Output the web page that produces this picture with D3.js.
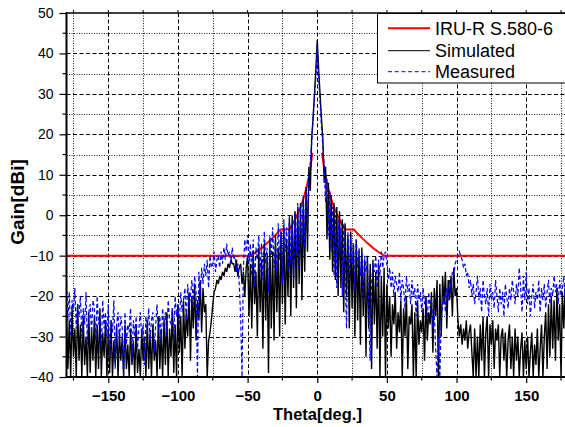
<!DOCTYPE html>
<html><head><meta charset="utf-8">
<script src="https://cdn.jsdelivr.net/npm/d3@7"></script>
<style>html,body{margin:0;padding:0;background:#fff;overflow:hidden}</style>
</head><body><svg id="chart" width="565" height="427"></svg>
<script>
// ---------- data ----------
const xTicks = [-150, -100, -50, 0, 50, 100, 150];
const xMinorTicks = [-175, -125, -75, -25, 25, 75, 125, 175];
const yTicks = [-40, -30, -20, -10, 0, 10, 20, 30, 40, 50];
const yMinorTicks = [-35, -25, -15, -5, 5, 15, 25, 35, 45];
const seriesNames = ["IRU-R S.580-6", "Simulated", "Measured"];
const xTitle = "Theta[deg.]";
const yTitle = "Gain[dBi]";

// sampling angles (deg) of the two measured/simulated patterns
const simTheta = d3.range(-180, 181, 1);
const simGain = [
  -24,-38,-26,-40,-23,-35,-28,-40,-22,-36,   // -180..-171
  -27,-40,-25,-37,-30,-40,-24,-39,-28,-36,   // -170..-161
  -25,-40,-27,-38,-23,-40,-29,-35,-26,-40,   // -160..-151
  -28,-39,-26,-40,-31,-37,-27,-40,-29,-36,   // -150..-141
  -30,-40,-27,-38,-32,-40,-28,-37,-31,-40,   // -140..-131
  -27,-39,-33,-40,-28,-36,-30,-40,-26,-38,   // -130..-121
  -29,-40,-27,-36,-31,-40,-25,-38,-28,-40,   // -120..-111
  -26,-37,-24,-40,-28,-35,-23,-39,-27,-40,   // -110..-101
  -22,-34,-25,-40,-21,-33,-24,-30,-19,-36,   // -100..-91
  -20,-28,-17,-31,-21,-26,-16,-29,-18,-24,   // -90..-81
  -22,-40,-31,-29,-26,-22,-19,-18,-16,-17,   // -80..-71
  -15,-16,-14,-15,-13,-14,-12,-13,-11,-12,   // -70..-61
  -12,-14,-11,-15,-13,-12,-17,-14,-20,-13,   // -60..-51
  -10,-25,-12,-28,-9,-22,-14,-30,-8,-24,     // -50..-41
  -11,-33,-7,-26,-10,-39,-6,-28,-9,-31,      // -40..-31
  -5,-24,-8,-30,-4,-22,-3,-27,-6,-20,        // -30..-21
  -1,-25,0,-18,1,-23,2,-17,3,-21,            // -20..-11
  4,-14,7,-9,12,6,19,24,30,36,               // -10..-1
  43.3,                                      // 0
  36,30,24,19,8,12,-6,8,-11,5,               // 1..10
  -14,3,-16,2,-20,1,-18,-1,-24,-2,           // 11..20
  -20,-5,-28,-4,-23,-7,-30,-6,-26,-9,        // 21..30
  -32,-8,-25,-11,-35,-10,-28,-12,-38,-11,    // 31..40
  -27,-14,-33,-12,-40,-15,-30,-13,-40,-17,   // 41..50
  -28,-20,-35,-22,-27,-19,-33,-24,-29,-21,   // 51..60
  -40,-23,-30,-20,-38,-25,-27,-22,-40,-24,   // 61..70
  -40,-21,-32,-26,-29,-23,-36,-20,-31,-24,   // 71..80
  -27,-19,-34,-18,-25,-16,-40,-17,-30,-15,   // 81..90
  -22,-14,-28,-16,-21,-15,-25,-13,-20,-18,   // 91..100
  -26,-30,-27,-32,-28,-31,-26,-33,-29,-27,   // 101..110
  -34,-40,-28,-40,-30,-40,-27,-36,-25,-40,   // 111..120
  -29,-25,-40,-27,-32,-26,-38,-28,-31,-27,   // 121..130
  -40,-30,-28,-36,-29,-40,-31,-27,-38,-30,   // 131..140
  -40,-28,-36,-30,-40,-33,-29,-40,-31,-38,   // 141..150
  -30,-40,-34,-29,-40,-32,-37,-28,-40,-33,   // 151..160
  -27,-40,-30,-24,-38,-22,-35,-20,-33,-21,   // 161..170
  -36,-18,-31,-22,-40,-19,-28,-17,-34,-21    // 171..180
];

const measTheta = d3.range(-180, 181, 1);
const measGain = [
  -17,-26,-19,-30,-21,-24,-18,-28,-22,-25,   // -180..-171
  -20,-30,-23,-27,-19,-32,-24,-22,-29,-21,   // -170..-161
  -23,-31,-20,-27,-25,-33,-21,-28,-24,-30,   // -160..-151
  -22,-35,-26,-29,-21,-38,-27,-24,-31,-25,   // -150..-141
  -28,-40,-24,-32,-27,-29,-23,-36,-26,-30,   // -140..-131
  -25,-33,-28,-24,-30,-27,-37,-25,-29,-23,   // -130..-121
  -31,-26,-24,-34,-27,-22,-29,-25,-32,-23,   // -120..-111
  -28,-24,-30,-21,-26,-27,-23,-31,-20,-25,   // -110..-101
  -22,-27,-19,-24,-21,-18,-26,-17,-23,-20,   // -100..-91
  -16,-22,-15,-19,-40,-14,-20,-13,-17,-12,   // -90..-81
  -15,-11,-18,-10,-13,-12,-9,-14,-11,-10,    // -80..-71
  -13,-9,-12,-8,-11,-7,-10,-9,-12,-8,        // -70..-61
  -11,-10,-14,-12,-17,-25,-40,-13,-6,-9,     // -60..-51
  -5,-12,-7,-15,-6,-18,-8,-11,-5,-14,        // -50..-41
  -7,-16,-4,-12,-8,-19,-5,-10,-3,-13,        // -40..-31
  -6,-15,-2,-11,-4,-17,-1,-9,-3,-14,         // -30..-21
  0,-12,-2,-16,1,-9,3,-13,2,-7,              // -20..-11
  5,-8,7,-3,10,13,18,24,29,34,               // -10..-1
  42,                                        // 0
  34,28,22,17,12,3,9,-5,6,-9,                // 1..10
  2,-15,0,-18,-1,-10,-3,-20,-2,-14,          // 11..20
  -28,-4,-16,-5,-12,-7,-19,-6,-13,-8,        // 21..30
  -15,-9,-21,-10,-14,-11,-25,-36,-17,-12,    // 31..40
  -14,-10,-18,-11,-15,-9,-13,-10,-9,-12,     // 41..50
  -16,-13,-18,-14,-20,-15,-17,-19,-14,-21,   // 51..60
  -16,-18,-23,-15,-19,-17,-22,-16,-20,-18,   // 61..70
  -25,-17,-21,-19,-24,-18,-22,-20,-26,-19,   // 71..80
  -23,-21,-28,-24,-33,-40,-30,-40,-26,-22,   // 81..90
  -20,-24,-18,-21,-16,-19,-14,-15,-12,-11,   // 91..100
  -10,-9,-10,-11,-13,-12,-15,-14,-18,-16,    // 101..110
  -20,-17,-22,-19,-15,-21,-18,-24,-16,-20,   // 111..120
  -22,-18,-25,-17,-21,-19,-23,-16,-20,-24,   // 121..130
  -18,-22,-19,-25,-17,-20,-23,-18,-21,-16,   // 131..140
  -19,-22,-17,-20,-13,-18,-24,-15,-21,-14,   // 141..150
  -22,-18,-25,-20,-17,-23,-19,-21,-16,-24,   // 151..160
  -18,-21,-17,-23,-19,-16,-22,-18,-20,-15,   // 161..170
  -19,-17,-22,-16,-20,-18,-15,-21,-17,-19    // 171..180
];

// ITU-R S.580-6 envelope (hidden inside the main lobe near 0)
const maskTheta = [-180,-48,-44,-40,-36,-32,-28,-26.3,-20,-18,-16,-14,-12,-10,-8,-6,-5,-4,-3.5,
                   0,
                   3.5,4,5,6,8,10,12,14,16,18,20,26.3,28,32,36,40,44,48,180];
const maskGain  = [-10,-10,-9.1,-8.1,-6.9,-5.6,-4.2,-3.5,-3.5,-2.4,-1.1,0.4,2.0,4.0,6.4,9.5,11.5,14.0,15.4,
                   NaN,
                   15.4,14.0,11.5,9.5,6.4,4.0,2.0,0.4,-1.1,-2.4,-3.5,-3.5,-4.2,-5.6,-6.9,-8.1,-9.1,-10,-10];

// ---------- chart ----------
const svg = d3.select("#chart");
const L = 66.5, R = 568, T = 13, B = 377;
const x = d3.scaleLinear().domain([-180, 180]).range([L, R]);
const y = d3.scaleLinear().domain([-40, 50]).range([B, T]);
const font = "'Liberation Sans', Arial, Helvetica, sans-serif";

svg.append("rect").attr("width", 565).attr("height", 427).attr("fill", "#fff");

svg.append("defs").append("clipPath").attr("id", "clip")
  .append("rect").attr("x", L).attr("y", T).attr("width", R - L).attr("height", B - T);

// grid
const grid = svg.append("g");
grid.selectAll(".hmin").data(yMinorTicks).join("line")
  .attr("x1", L).attr("x2", R).attr("y1", d => Math.round(y(d)) + 0.5).attr("y2", d => Math.round(y(d)) + 0.5)
  .attr("stroke", "#222").attr("stroke-width", 1).attr("stroke-dasharray", "1,1.5");
grid.selectAll(".hmaj").data(yTicks.filter(d => d > -40 && d < 50)).join("line")
  .attr("x1", L).attr("x2", R).attr("y1", d => Math.round(y(d)) + 0.5).attr("y2", d => Math.round(y(d)) + 0.5)
  .attr("stroke", "#000").attr("stroke-width", 1).attr("stroke-dasharray", "4,2.5");
grid.selectAll(".vmin").data(xMinorTicks).join("line")
  .attr("y1", T).attr("y2", B).attr("x1", d => Math.round(x(d)) + 0.5).attr("x2", d => Math.round(x(d)) + 0.5)
  .attr("stroke", "#222").attr("stroke-width", 1).attr("stroke-dasharray", "1,1.5");
grid.selectAll(".vmaj").data(xTicks).join("line")
  .attr("y1", T).attr("y2", B).attr("x1", d => Math.round(x(d)) + 0.5).attr("x2", d => Math.round(x(d)) + 0.5)
  .attr("stroke", "#000").attr("stroke-width", 1).attr("stroke-dasharray", "4,2.5");

// series
const line = d3.line().defined(d => !isNaN(d[1])).x(d => x(d[0])).y(d => y(d[1]));
const plot = svg.append("g").attr("clip-path", "url(#clip)");
plot.append("path").datum(d3.zip(maskTheta, maskGain)).attr("d", line)
  .attr("fill", "none").attr("stroke", "#ff0000").attr("stroke-width", 2);
plot.append("path").datum(d3.zip(simTheta, simGain)).attr("d", line)
  .attr("fill", "none").attr("stroke", "#000").attr("stroke-width", 1.4).attr("stroke-linejoin", "miter");
plot.append("path").datum(d3.zip(measTheta, measGain)).attr("d", line)
  .attr("fill", "none").attr("stroke", "#0000ff").attr("stroke-width", 1.2).attr("stroke-dasharray", "4,2.5");

// axes
const yAxis = d3.axisLeft(y).tickValues(yTicks).tickSize(7).tickPadding(6).tickFormat(d3.format("d"));
const gy = svg.append("g").attr("transform", `translate(${L},0)`).call(yAxis);
gy.select(".domain").remove();
gy.selectAll("line").attr("stroke", "#000").attr("stroke-width", 1.2);
gy.selectAll("text").attr("font-family", font).attr("font-size", 14).attr("fill", "#000");
svg.append("g").selectAll("line").data(yMinorTicks).join("line")
  .attr("x1", L - 4).attr("x2", L).attr("y1", d => y(d)).attr("y2", d => y(d))
  .attr("stroke", "#000").attr("stroke-width", 1.2);

const xAxis = d3.axisBottom(x).tickValues(xTicks).tickSize(6).tickPadding(7).tickFormat(d3.format("d"));
const gx = svg.append("g").attr("transform", `translate(0,${B})`).call(xAxis);
gx.select(".domain").remove();
gx.selectAll("line").attr("stroke", "#000").attr("stroke-width", 1.2);
gx.selectAll("text").attr("font-family", font).attr("font-size", 15).attr("font-weight", "bold").attr("fill", "#000");
svg.append("g").selectAll("line").data(xMinorTicks).join("line")
  .attr("y1", B).attr("y2", B + 3.5).attr("x1", d => x(d)).attr("x2", d => x(d))
  .attr("stroke", "#000").attr("stroke-width", 1.2);
// top small ticks
svg.append("g").selectAll("line").data(xTicks.concat(xMinorTicks)).join("line")
  .attr("y1", T - 3).attr("y2", T).attr("x1", d => x(d)).attr("x2", d => x(d))
  .attr("stroke", "#000").attr("stroke-width", 1);

// frame
svg.append("line").attr("x1", L).attr("x2", R).attr("y1", T).attr("y2", T).attr("stroke", "#000").attr("stroke-width", 1.5);
svg.append("line").attr("x1", L).attr("x2", R).attr("y1", B).attr("y2", B).attr("stroke", "#000").attr("stroke-width", 2);
svg.append("line").attr("x1", L).attr("x2", L).attr("y1", T - 0.75).attr("y2", B + 1).attr("stroke", "#000").attr("stroke-width", 2);
svg.append("line").attr("x1", R).attr("x2", R).attr("y1", T).attr("y2", B).attr("stroke", "#000").attr("stroke-width", 1.5);

// titles
svg.append("text").attr("x", 317.5).attr("y", 420).attr("text-anchor", "middle")
  .attr("font-family", font).attr("font-size", 16.5).attr("font-weight", "bold").text(xTitle);
svg.append("text").attr("transform", "translate(23.5,202) rotate(-90)").attr("text-anchor", "middle")
  .attr("font-family", font).attr("font-size", 19).attr("font-weight", "bold").text(yTitle);

// legend
const lg = svg.append("g");
lg.append("rect").attr("x", 377.5).attr("y", 13.5).attr("width", 200).attr("height", 69.5)
  .attr("fill", "#fff").attr("stroke", "#000").attr("stroke-width", 1);
const legendY = [28.3, 50.7, 71.7];
const legendStyle = [
  {stroke: "#ff0000", w: 2, dash: null},
  {stroke: "#000", w: 1, dash: null},
  {stroke: "#0000ff", w: 1, dash: "4,2.7"}
];
seriesNames.forEach((name, i) => {
  lg.append("line").attr("x1", 388).attr("x2", 430).attr("y1", legendY[i]).attr("y2", legendY[i])
    .attr("stroke", legendStyle[i].stroke).attr("stroke-width", legendStyle[i].w)
    .attr("stroke-dasharray", legendStyle[i].dash);
  lg.append("text").attr("x", 435).attr("y", legendY[i] + 6.5)
    .attr("font-family", font).attr("font-size", 18).attr("fill", "#000").text(name);
});
</script></body></html>
